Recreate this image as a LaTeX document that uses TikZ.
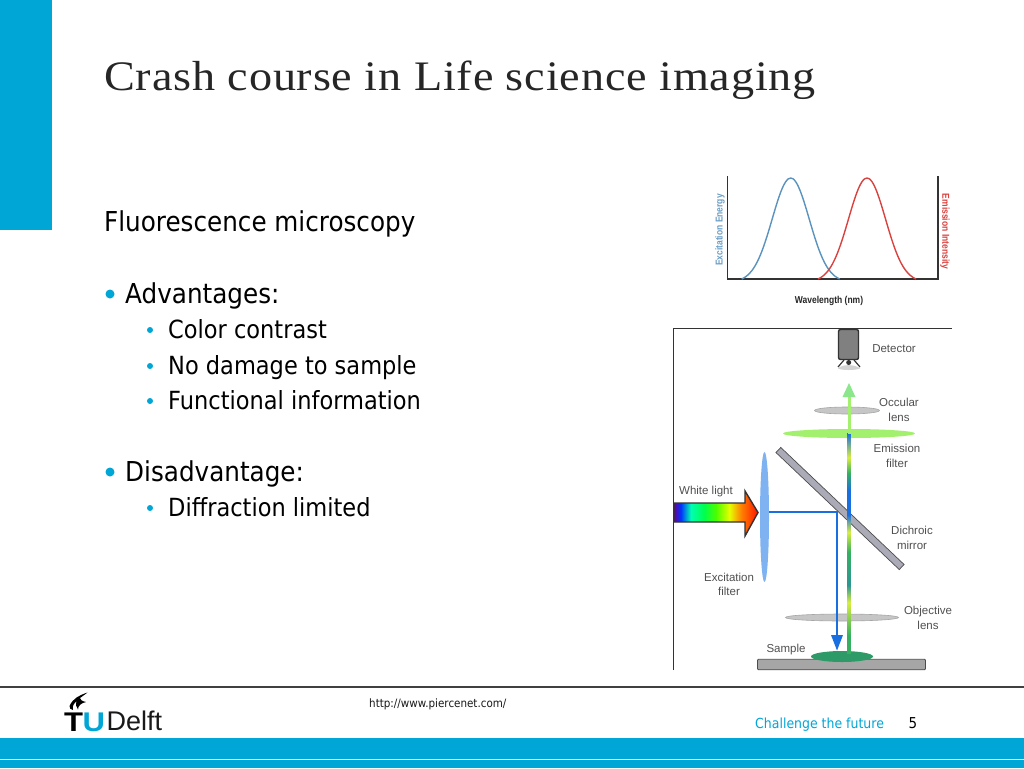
\documentclass[tikz,border=0pt]{standalone}
\usepackage{fontspec}
\setmainfont{Liberation Sans}
\newfontfamily\titlef[FakeStretch=1.1,LetterSpace=2]{Liberation Serif}
\newfontfamily\bodyf[FakeStretch=0.9]{DejaVu Sans}
\newfontfamily\labelf{Liberation Sans}
\newfontfamily\boldf[FakeStretch=0.85]{Liberation Sans Bold}
\newfontfamily\logof[FakeStretch=1.15]{Liberation Sans Bold}
\definecolor{tucyan}{HTML}{00A6D6}
\definecolor{lblgray}{HTML}{505050}
\definecolor{exblue}{HTML}{5B93BE}
\definecolor{emred}{HTML}{D8423F}
\definecolor{rayblue}{HTML}{1A6FE0}
\definecolor{emgreen}{HTML}{A2F06E}
\definecolor{arrowgreen}{HTML}{8CE68C}
\definecolor{exfilt}{HTML}{7FB2F0}
\definecolor{mirrorc}{HTML}{ABABB8}
\definecolor{smpc}{HTML}{2E9A68}
\definecolor{raygreen}{HTML}{35B060}
\definecolor{rayyellow}{HTML}{D8EE40}
\pgfdeclarehorizontalshading{rainbow}{100bp}{
 color(0bp)=(violet!80!blue); color(25bp)=(violet!80!blue); color(29bp)=(blue!80!cyan); color(35bp)=(cyan!70!green); color(43bp)=(green!70!cyan);
 color(50bp)=(green!70!yellow); color(58bp)=(yellow!90!green); color(65bp)=(orange); color(75bp)=(red!85!orange); color(100bp)=(red!85!orange)}
\pgfdeclareverticalshading{emray}{100bp}{
 color(0bp)=(raygreen); color(25bp)=(raygreen); color(29bp)=(raygreen); color(36.5bp)=(rayyellow); color(40.5bp)=(raygreen!60!rayblue);
 color(48bp)=(raygreen); color(52.5bp)=(rayyellow); color(56.5bp)=(rayblue); color(62bp)=(rayblue);
 color(66bp)=(raygreen); color(69.5bp)=(rayyellow); color(75bp)=(rayblue); color(100bp)=(rayblue)}
\tikzset{
 x=1pt,y=-1pt,
 bigt/.style={anchor=base west,inner sep=0pt,font=\bodyf\fontsize{27.4}{30}\selectfont},
 subt/.style={anchor=base west,inner sep=0pt,font=\bodyf\fontsize{25}{28}\selectfont},
 bul/.style={circle,fill=tucyan,inner sep=0pt},
 lbl/.style={align=center,inner sep=0pt,text=lblgray,font=\labelf\fontsize{11.5}{14.5}\selectfont},
 lens/.style={ellipse,inner sep=0pt,draw=gray!70,fill=gray!45,line width=.6pt},
 ray/.style={rayblue,line width=2.4pt},
}
\usetikzlibrary{shapes.geometric,arrows.meta}
\begin{document}
\begin{tikzpicture}
\useasboundingbox (0,0) rectangle (1024,768);
\fill[white] (0,0) rectangle (1024,768);
% frame bands
\fill[tucyan] (0,0) rectangle (52,230);
\draw[black!75,line width=1.3pt] (0,687) -- (1024,687);
\fill[tucyan] (0,738) rectangle (1024,768);
\draw[white,line width=1pt] (0,759) -- (1024,759);
% text
\node[anchor=base west,inner sep=0pt,text=black!85,font=\titlef\fontsize{42}{46}\selectfont] (title) at (104,90) {Crash course in Life science imaging};
\node[bigt] (h) at (104,231) {Fluorescence microscopy};
\node[bul,minimum size=9pt] (b1) at (110,294) {};
\node[bigt] (adv) at (125,303) {Advantages:};
\node[bul,minimum size=6pt] (b2) at (150,330) {};
\node[subt] (a1) at (168,338) {Color contrast};
\node[bul,minimum size=6pt] (b3) at (150,366) {};
\node[subt] (a2) at (168,374) {No damage to sample};
\node[bul,minimum size=6pt] (b4) at (150,401) {};
\node[subt] (a3) at (168,409.5) {Functional information};
\node[bul,minimum size=9pt] (b5) at (110,472) {};
\node[bigt] (dis) at (125,481) {Disadvantage:};
\node[bul,minimum size=6pt] (b6) at (150,508) {};
\node[subt] (d1) at (168,516) {Diffraction limited};
% chart
\coordinate (tl) at (727.7,176); \coordinate (bl) at (727.7,279); \coordinate (br) at (938,279); \coordinate (tr) at (938,176);
\draw[black!80,line width=1.5pt] (tl) -- (bl) -- (br) -- (tr);
\draw[exblue,line width=1.4pt] plot[smooth,domain=-49:49,samples=41] ({790.7+\x},{279-101*(exp(-\x*\x/684.5)-0.03)/0.97});
\draw[emred,line width=1.4pt] plot[smooth,domain=-49:49,samples=41] ({867+\x},{279-101*(exp(-\x*\x/684.5)-0.03)/0.97});
\node[rotate=90,inner sep=0pt,text=exblue!90!white,font=\boldf\fontsize{10}{11}\selectfont] (ee) at (720,230) {Excitation Energy};
\node[rotate=-90,inner sep=0pt,text=emred,font=\boldf\fontsize{10}{11}\selectfont] (ei) at (945,231.5) {Emission Intensity};
\node[inner sep=0pt,text=black!85,font=\boldf\fontsize{10}{12}\selectfont] (wl) at (829,300.5) {Wavelength (nm)};
% microscope frame
\coordinate (f1) at (673.5,670); \coordinate (f2) at (673.5,328); \coordinate (f3) at (952,328);
\draw[black!80,line width=.8pt] (f1) -- (f2) -- (f3);
% optics
\node[rectangle,rounded corners=1pt,draw=gray!60!black,fill=gray!70!white,minimum width=168pt,minimum height=10.5pt,inner sep=0pt,line width=.8pt] (stage) at (841.5,664.5) {};
\node[lens,minimum width=65pt,minimum height=7pt] (ocular) at (847,410.5) {};
\node[ellipse,inner sep=0pt,fill=emgreen,minimum width=132pt,minimum height=9pt] (emf) at (849,433.5) {};
\node[lens,minimum width=113pt,minimum height=7pt] (obj) at (842,617.5) {};
\node[ellipse,inner sep=0pt,fill=exfilt,minimum width=9pt,minimum height=130pt] (exf) at (764.5,517) {};
\node[ellipse,inner sep=0pt,fill=smpc,minimum width=62pt,minimum height=11pt] (smp) at (842,656.5) {};
% mirror
\node[rectangle,rotate=-43.5,draw=gray!60!black,fill=mirrorc,line width=.7pt,minimum width=170pt,minimum height=7pt,inner sep=0pt] (mirror) at (840,508.5) {};
% rainbow arrow
\shade[shading=rainbow,draw=black!80,line width=1.4pt] (674,503) -- (745,503) -- (745,491) -- (758,512.5) -- (745,536) -- (745,522) -- (674,522) -- cycle;
\coordinate (exit) at (exf.east);
\coordinate (turn) at (837,512);
\draw[ray] (exit |- turn) -- (turn) -- (837,636);
\fill[rayblue] (831,635) -- (843,635) -- (837,650.5) -- cycle;
% emission ray
\shade[shading=emray] (847.2,433.5) rectangle (850.8,653);
\coordinate (emtop) at (849,397);
\draw[emgreen,line width=3pt] (emf.center) -- (emtop);
\fill[arrowgreen] (842.5,397) -- (855.5,397) -- (849,383) -- cycle;
% detector
\node[rectangle,rounded corners=2pt,draw=black!80,fill=gray,line width=1.4pt,minimum width=20pt,minimum height=30pt,inner sep=0pt] (det) at (848.5,344.5) {};
\fill[gray!35] (838,368.5) .. controls (842,364) and (855,364) .. (860,368.5) .. controls (855,370.5) and (842,370.5) .. (838,368.5) -- cycle;
\coordinate (dl) at (844,360); \coordinate (dr) at (854,360);
\draw[black!80,line width=1.2pt] (dl) -- (838,367) (dr) -- (860,367);
\fill[black!80] (848.7,362.5) circle (2.5pt);
% microscope labels
\node[lbl] (l1) at (894,348.7) {Detector};
\node[lbl] (l2) at (899,409.7) {Occular\\lens};
\node[lbl] (l3) at (897,455.7) {Emission\\filter};
\node[lbl] (l4) at (706,491.2) {White light};
\node[lbl] (l5) at (912,537.7) {Dichroic\\mirror};
\node[lbl] (l6) at (729,584.2) {Excitation\\filter};
\node[lbl] (l7) at (928,617.7) {Objective\\lens};
\node[lbl] (l8) at (786,649.2) {Sample};
% footer
\node[anchor=base west,inner sep=0pt,text=black!90,font=\bodyf\fontsize{11.5}{14}\selectfont] (url) at (369,707) {http://www.piercenet.com/};
\node[anchor=base west,inner sep=0pt,text=tucyan,font=\bodyf\fontsize{13.9}{17}\selectfont] (ch) at (755,728) {Challenge the future};
\node[anchor=base,inner sep=0pt,text=black,font=\bodyf\fontsize{15}{17}\selectfont] (pg) at (913,728) {5};
% logo
\node[anchor=base west,inner sep=0pt,text=black,font=\logof\fontsize{27}{30}\selectfont] (lt) at (64,731) {T};
\node[anchor=base west,inner sep=0pt,text=tucyan,font=\logof\fontsize{27}{30}\selectfont] (lu) at (82.5,731) {U};
\node[anchor=base west,inner sep=0pt,text=black!90,font=\labelf\fontsize{27}{30}\selectfont] (ld) at (106.5,730) {Delft};
\fill[black] (87.5,692.5) .. controls (80,695) and (73,698) .. (69.5,706) .. controls (69,708) and (71,710) .. (73,710)
 .. controls (72,706) and (74,703) .. (77,701) .. controls (75,704) and (76,707) .. (78,709.5)
 .. controls (78,706) and (81,703) .. (86,702) .. controls (82,701) and (80,700) .. (80,698) .. controls (82,696) and (85,695) .. (87.5,692.5) -- cycle;
\end{tikzpicture}
\end{document}
